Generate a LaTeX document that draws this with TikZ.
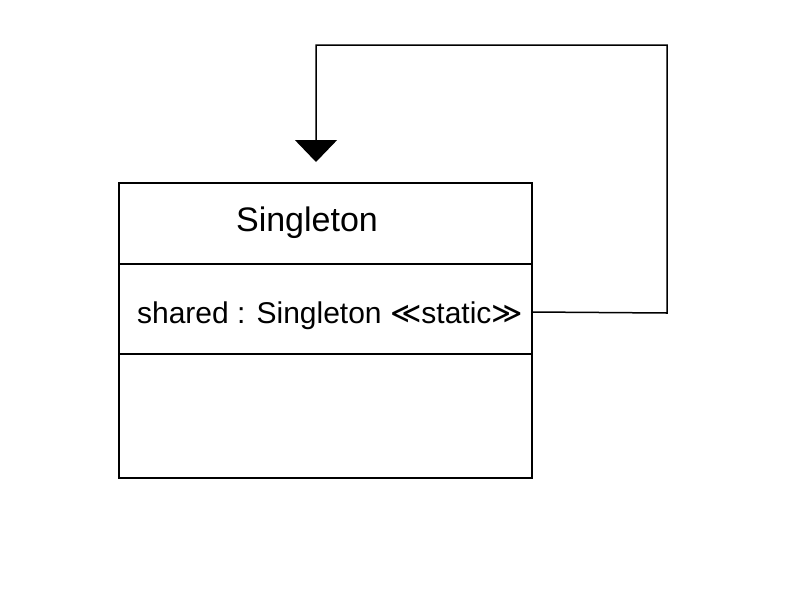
\documentclass[tikz,border=0pt]{standalone}
\usepackage{fontspec}
\setmainfont{Liberation Sans}
\newfontfamily\symfont{DejaVu Sans}
\usetikzlibrary{arrows.meta}
\begin{document}
\begin{tikzpicture}[x=1pt,y=-1pt,
  line/.style={line width=1.5pt, draw=black},
  classbox/.style={line, minimum width=413pt, minimum height=295pt, inner sep=0pt},
  txt/.style={inner sep=0pt, font=\fontsize{30}{34}\selectfont},
  conn/.style={line, -{Triangle[width=42pt,length=22pt]}}]
\useasboundingbox (0,0) rectangle (792,603);
\node[classbox] (cls) at (325.5,330.5) {};
\coordinate (d1l) at (119,264);
\coordinate (d1r) at (532,264);
\coordinate (d2l) at (119,354);
\coordinate (d2r) at (532,354);
\draw[line] (d1l) -- (d1r);
\draw[line] (d2l) -- (d2r);
\node[txt, font=\fontsize{34}{38}\selectfont] (title) at (307,223) {Singleton};
\node[txt] (attr) at (330,316) {shared : Singleton {\symfont≪}static{\symfont≫}};
\coordinate (c1) at (667,313);
\coordinate (c2) at (667,45);
\coordinate (c3) at (316,45);
\coordinate (tip) at (316,162);
\draw[conn] (cls.east |- 0,312) -- (c1) -- (c2) -- (c3) -- (tip);
\end{tikzpicture}
\end{document}
